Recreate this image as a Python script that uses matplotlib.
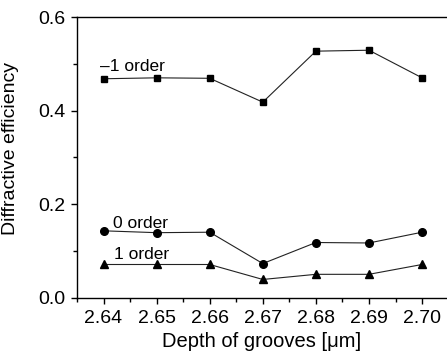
import numpy as np
import matplotlib
matplotlib.use('Agg')
import matplotlib.pyplot as plt
from matplotlib.ticker import MultipleLocator

plt.rcParams['font.family'] = ['Liberation Sans', 'DejaVu Sans']
plt.rcParams['lines.linewidth'] = 0.8

depth = [2.64, 2.65, 2.66, 2.67, 2.68, 2.69, 2.70]
order_m1 = [0.468, 0.470, 0.469, 0.418, 0.527, 0.529, 0.470]
order_0 = [0.143, 0.139, 0.140, 0.073, 0.118, 0.117, 0.140]
order_1 = [0.071, 0.071, 0.071, 0.039, 0.050, 0.050, 0.071]

fig = plt.figure(figsize=(4.47, 3.58), dpi=100)
ax = fig.add_axes([0.1723, 0.1684, 0.8277, 0.7841])

ax.plot(depth, order_m1, color='#222222', marker='s', markersize=5, markerfacecolor='black', markeredgecolor='black')
ax.plot(depth, order_0, color='#222222', marker='o', markersize=5.5, markerfacecolor='black', markeredgecolor='black')
ax.plot(depth, order_1, color='#222222', marker='^', markersize=6, markerfacecolor='black', markeredgecolor='black')

ax.text(2.6393, 0.484, '\u20131 order', fontsize=12.5)
ax.text(2.6417, 0.150, '0 order', fontsize=12.5)
ax.text(2.6420, 0.082, '1 order', fontsize=12.5)

ax.set_xlim(2.635, 2.7047)
ax.set_ylim(0, 0.6)
ax.set_xticks(depth)
ax.set_xticklabels(['%.2f' % d for d in depth])
ax.set_yticks([0.0, 0.2, 0.4, 0.6])
ax.set_yticklabels(['0.0', '0.2', '0.4', '0.6'])
ax.xaxis.set_minor_locator(MultipleLocator(0.005))
ax.yaxis.set_minor_locator(MultipleLocator(0.1))
ax.tick_params(which='major', direction='out', length=4.5, width=1, labelsize=14, pad=4)
ax.tick_params(which='minor', direction='out', length=3, width=1)
ax.tick_params(top=False, right=False)
ax.spines['right'].set_visible(False)
for s in ['left', 'bottom', 'top']:
    ax.spines[s].set_linewidth(1)

ax.set_xlabel('Depth of grooves [\u03bcm]', fontsize=14.5, labelpad=4)
ax.set_ylabel('Diffractive efficiency', fontsize=14)
ax.yaxis.set_label_coords(-0.158, 0.53)

fig.savefig('out.png', dpi=100)
